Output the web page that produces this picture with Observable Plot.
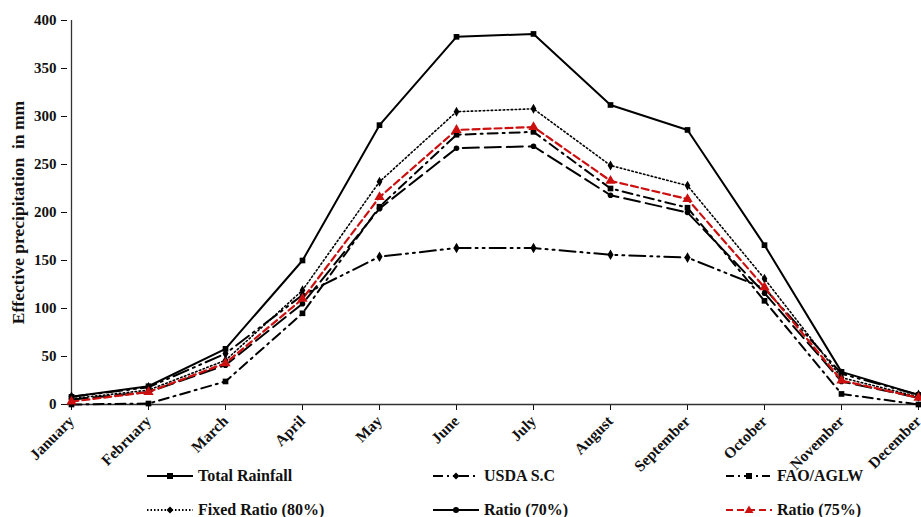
<!DOCTYPE html>
<html>
<head>
<meta charset="utf-8">
<script src="https://cdn.jsdelivr.net/npm/d3@7"></script>
<script src="https://cdn.jsdelivr.net/npm/@observablehq/plot@0.6"></script>
<style>
  body { margin: 0; background: #fff; width: 921px; height: 517px; overflow: hidden; position: relative; font-family: "Liberation Serif", "Times New Roman", serif; }
  #chart { position: absolute; left: 0; top: 0; }
  g[aria-label="y-axis label"] text { font-size: 17.5px; }
  .leg { position: absolute; display: flex; align-items: center; font-weight: bold; font-size: 16px; color: #111; white-space: nowrap; }
  .leg svg { margin-right: 5px; }
</style>
</head>
<body>
<div id="chart"></div>
<div id="legend"></div>
<script>
const months = ["January","February","March","April","May","June","July","August","September","October","November","December"];
const totalRainfall = [8, 19, 58, 150, 291, 383, 386, 312, 286, 166, 34, 10];
const usdaSC       = [8, 18, 53, 114, 154, 163, 163, 156, 153, 121, 32, 10];
const faoAGLW      = [0, 1, 24, 95, 206, 281, 284, 225, 205, 108, 11, 0];
const fixed80      = [6, 15, 46, 119, 232, 305, 308, 249, 228, 131, 28, 8];
const ratio70      = [5, 13, 41, 105, 204, 267, 269, 218, 200, 116, 24, 7];
const ratio75      = [3, 13, 43, 110, 216, 286, 289, 233, 214, 122, 25, 7];
const seriesNames  = ["Total Rainfall", "USDA S.C", "FAO/AGLW", "Fixed Ratio (80%)", "Ratio (70%)", "Ratio (75%)"];
const yTicks = [0, 50, 100, 150, 200, 250, 300, 350, 400];

const seriesValues = [totalRainfall, usdaSC, faoAGLW, fixed80, ratio70, ratio75];
const styles = [
  {stroke: "#000", dash: null, width: 2, symbol: "square", r: 3.2},
  {stroke: "#000", dash: "16,5,2,5,2,5", width: 2, symbol: "diamond", r: 3.2},
  {stroke: "#000", dash: "10,5,2,5", width: 2, symbol: "square", r: 3.2},
  {stroke: "#000", dash: "1.5,2.5", width: 1.6, symbol: "diamond", r: 3},
  {stroke: "#000", dash: "16,6", width: 2, symbol: "circle", r: 2.8},
  {stroke: "#cc1010", dash: "7,4", width: 2.2, symbol: "triangle", r: 3.8}
];

const rows = seriesNames.map((name, i) => months.map((m, j) => ({series: name, month: m, value: seriesValues[i][j]})));

const marks = [];
rows.forEach((data, i) => {
  const s = styles[i];
  marks.push(Plot.line(data, {x: "month", y: "value", stroke: s.stroke, strokeWidth: s.width, strokeDasharray: s.dash ?? undefined}));
});
rows.forEach((data, i) => {
  const s = styles[i];
  marks.push(Plot.dot(data, {x: "month", y: "value", symbol: () => s.symbol, fill: s.stroke, stroke: "none", r: s.r}));
});

const chart = Plot.plot({
  width: 921,
  height: 462,
  marginLeft: 67,
  marginRight: 0,
  marginTop: 20,
  marginBottom: 58,
  style: {fontFamily: "Liberation Serif, Times New Roman, serif", fontWeight: "bold", fontSize: "15px", color: "#111", background: "#fff", overflow: "visible"},
  x: {type: "point", domain: months, padding: 0},
  y: {domain: [0, 400]},
  symbol: {type: "identity"},
  marks: [
    Plot.axisY({ticks: yTicks, tickSize: 6, tickPadding: 5, label: "Effective precipitation  in mm", labelAnchor: "center", labelOffset: 56, labelArrow: "none", fontSize: 15}),
    Plot.axisX({tickSize: 6, tickRotate: -45, tickPadding: 8, label: null, fontSize: 15.5}),
    Plot.ruleY([0], {stroke: "#333", strokeWidth: 1.3}),
    Plot.ruleX([months[0]], {stroke: "#333", strokeWidth: 1.3}),
    ...marks
  ]
});
document.getElementById("chart").appendChild(chart);

// Legend
const legendPos = [
  {left: 147, top: 466}, {left: 433, top: 466}, {left: 726, top: 466},
  {left: 147, top: 500}, {left: 433, top: 500}, {left: 726, top: 500}
];
const legendOrder = [0, 1, 2, 3, 4, 5];
const legend = document.getElementById("legend");
legendOrder.forEach((i, k) => {
  const s = styles[i];
  const div = document.createElement("div");
  div.className = "leg";
  div.style.left = legendPos[k].left + "px";
  div.style.top = legendPos[k].top + "px";
  const w = 46, h = 20, cx = w / 2, cy = h / 2;
  let marker = "";
  if (s.symbol === "square") marker = `<rect x="${cx-3}" y="${cy-3}" width="6" height="6" fill="${s.stroke}"/>`;
  else if (s.symbol === "diamond") marker = `<polygon points="${cx},${cy-3.5} ${cx+3.5},${cy} ${cx},${cy+3.5} ${cx-3.5},${cy}" fill="${s.stroke}"/>`;
  else if (s.symbol === "circle") marker = `<circle cx="${cx}" cy="${cy}" r="3" fill="${s.stroke}"/>`;
  else if (s.symbol === "triangle") marker = `<polygon points="${cx},${cy-4.5} ${cx+4.5},${cy+3} ${cx-4.5},${cy+3}" fill="${s.stroke}"/>`;
  const legDash = [null, "10,4,2,4,2,4", "8,4,2,4", "1.5,2", null, "7,4"][i];
  div.innerHTML = `<svg width="${w}" height="${h}"><line x1="0" x2="${w}" y1="${cy}" y2="${cy}" stroke="${s.stroke}" stroke-width="2" ${legDash ? `stroke-dasharray="${legDash}"` : ""}/>${marker}</svg><span>${seriesNames[i]}</span>`;
  legend.appendChild(div);
});
</script>
</body>
</html>
